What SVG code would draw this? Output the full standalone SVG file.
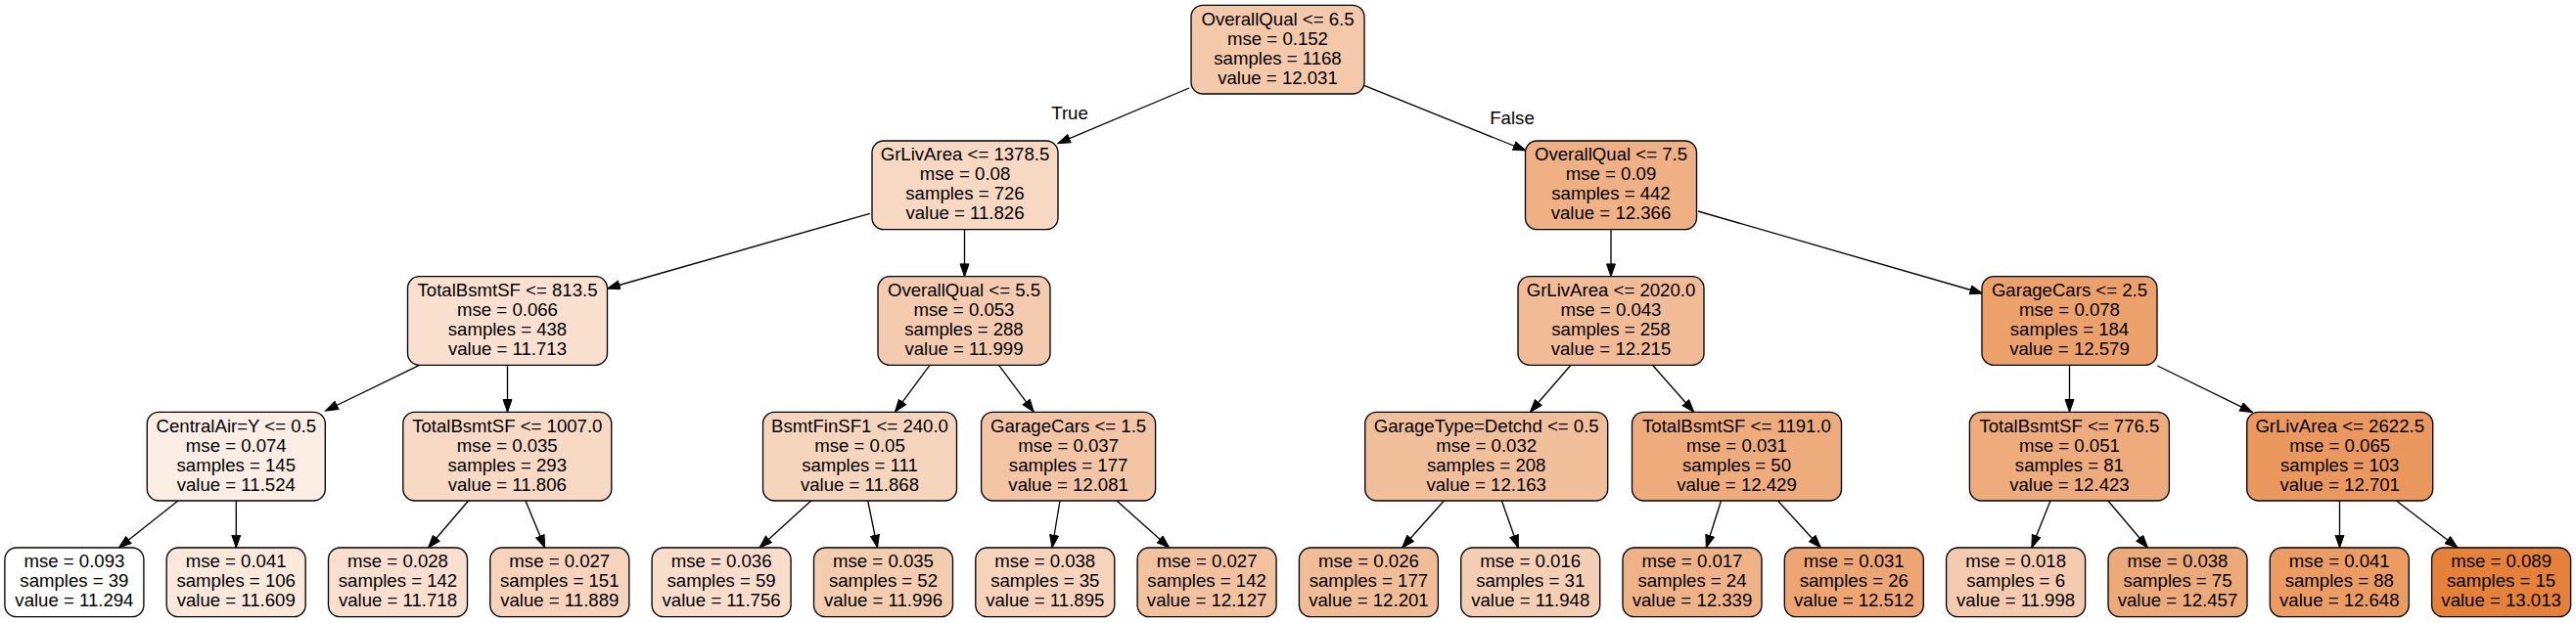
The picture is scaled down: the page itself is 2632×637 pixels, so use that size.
<svg xmlns="http://www.w3.org/2000/svg" width="2632" height="637" viewBox="0 0 2632 637">
<style>
.b{stroke:#000;stroke-width:1.33}
text{font-family:"Liberation Sans",Arial,Helvetica,sans-serif;font-size:18.6px;fill:#000;text-anchor:middle}
.e line{stroke:#000;stroke-width:1.33;marker-end:url(#ah)}
</style>
<defs>
<marker id="ah" markerUnits="userSpaceOnUse" markerWidth="16" markerHeight="12" refX="13.3" refY="5" orient="auto">
<path d="M0.5,0.5 L13.3,5 L0.5,9.5 z" fill="#000" stroke="#000" stroke-width="1"/>
</marker>
</defs>
<rect width="2632" height="637" fill="#fff"/>
<g id="edges" class="e">
<line x1="1215" y1="90" x2="1080.8" y2="146.7"/>
<line x1="1393.7" y1="87.3" x2="1559" y2="154"/>
<line x1="888.8" y1="218.3" x2="620.5" y2="295"/>
<line x1="985.5" y1="234.7" x2="985.5" y2="282.7"/>
<line x1="1646" y1="234.7" x2="1646" y2="282.7"/>
<line x1="1735" y1="216" x2="2025.7" y2="300"/>
<line x1="428.6" y1="373.3" x2="332.6" y2="420"/>
<line x1="518.5" y1="373.3" x2="518.5" y2="421.3"/>
<line x1="950" y1="373.3" x2="914.4" y2="421.3"/>
<line x1="1020.6" y1="373.3" x2="1056.3" y2="421.3"/>
<line x1="1605" y1="373.3" x2="1563.4" y2="421.3"/>
<line x1="1688.4" y1="373.3" x2="1730.8" y2="421.3"/>
<line x1="2114.5" y1="373.3" x2="2114.5" y2="421.3"/>
<line x1="2204.3" y1="374" x2="2301.6" y2="421.7"/>
<line x1="182" y1="512" x2="121.4" y2="560"/>
<line x1="241.3" y1="512" x2="241.3" y2="560"/>
<line x1="478.6" y1="512" x2="437.5" y2="560"/>
<line x1="537" y1="512" x2="556.7" y2="560"/>
<line x1="828.7" y1="512" x2="776" y2="560"/>
<line x1="886.7" y1="512" x2="896.5" y2="560"/>
<line x1="1083" y1="512" x2="1075" y2="560"/>
<line x1="1141" y1="512" x2="1194.7" y2="560"/>
<line x1="1475.4" y1="512" x2="1432.6" y2="560"/>
<line x1="1534.4" y1="512" x2="1551.3" y2="560"/>
<line x1="1758.5" y1="512" x2="1743.3" y2="560"/>
<line x1="1816.5" y1="512" x2="1860.3" y2="560"/>
<line x1="2095" y1="512" x2="2075.8" y2="560"/>
<line x1="2153.9" y1="512" x2="2194.5" y2="560"/>
<line x1="2390.5" y1="512" x2="2390.5" y2="560"/>
<line x1="2448.5" y1="512" x2="2511" y2="560"/>
<text x="1093" y="121.7">True</text>
<text x="1545" y="126.5">False</text>
</g>
<g id="n0"><rect class="b" x="1217" y="5.33" width="177" height="90.67" rx="12" fill="#f4c9aa"/><text x="1305.5" y="25.7">OverallQual &lt;= 6.5</text><text x="1305.5" y="45.7">mse = 0.152</text><text x="1305.5" y="65.7">samples = 1168</text><text x="1305.5" y="85.7">value = 12.031</text></g>
<g id="n1"><rect class="b" x="891" y="144" width="190" height="90.67" rx="12" fill="#f7d8c2"/><text x="986" y="164.4">GrLivArea &lt;= 1378.5</text><text x="986" y="184.4">mse = 0.08</text><text x="986" y="204.4">samples = 726</text><text x="986" y="224.4">value = 11.826</text></g>
<g id="n2"><rect class="b" x="1558.5" y="144" width="175" height="90.67" rx="12" fill="#efb084"/><text x="1646" y="164.4">OverallQual &lt;= 7.5</text><text x="1646" y="184.4">mse = 0.09</text><text x="1646" y="204.4">samples = 442</text><text x="1646" y="224.4">value = 12.366</text></g>
<g id="n3"><rect class="b" x="416.5" y="282.67" width="204" height="90.67" rx="12" fill="#f9e0cf"/><text x="518.5" y="303.1">TotalBsmtSF &lt;= 813.5</text><text x="518.5" y="323.1">mse = 0.066</text><text x="518.5" y="343.1">samples = 438</text><text x="518.5" y="363.1">value = 11.713</text></g>
<g id="n4"><rect class="b" x="897" y="282.67" width="176" height="90.67" rx="12" fill="#f4cbae"/><text x="985" y="303.1">OverallQual &lt;= 5.5</text><text x="985" y="323.1">mse = 0.053</text><text x="985" y="343.1">samples = 288</text><text x="985" y="363.1">value = 11.999</text></g>
<g id="n5"><rect class="b" x="1551" y="282.67" width="190" height="90.67" rx="12" fill="#f1bb95"/><text x="1646" y="303.1">GrLivArea &lt;= 2020.0</text><text x="1646" y="323.1">mse = 0.043</text><text x="1646" y="343.1">samples = 258</text><text x="1646" y="363.1">value = 12.215</text></g>
<g id="n6"><rect class="b" x="2025" y="282.67" width="179" height="90.67" rx="12" fill="#eca16b"/><text x="2114.5" y="303.1">GarageCars &lt;= 2.5</text><text x="2114.5" y="323.1">mse = 0.078</text><text x="2114.5" y="343.1">samples = 184</text><text x="2114.5" y="363.1">value = 12.579</text></g>
<g id="n7"><rect class="b" x="150.3" y="421.33" width="182" height="90.67" rx="12" fill="#fceee5"/><text x="241.3" y="441.7">CentralAir=Y &lt;= 0.5</text><text x="241.3" y="461.7">mse = 0.074</text><text x="241.3" y="481.7">samples = 145</text><text x="241.3" y="501.7">value = 11.524</text></g>
<g id="n8"><rect class="b" x="411.8" y="421.33" width="213" height="90.67" rx="12" fill="#f7d9c4"/><text x="518.3" y="441.7">TotalBsmtSF &lt;= 1007.0</text><text x="518.3" y="461.7">mse = 0.035</text><text x="518.3" y="481.7">samples = 293</text><text x="518.3" y="501.7">value = 11.806</text></g>
<g id="n9"><rect class="b" x="779.5" y="421.33" width="198" height="90.67" rx="12" fill="#f6d5bd"/><text x="878.5" y="441.7">BsmtFinSF1 &lt;= 240.0</text><text x="878.5" y="461.7">mse = 0.05</text><text x="878.5" y="481.7">samples = 111</text><text x="878.5" y="501.7">value = 11.868</text></g>
<g id="n10"><rect class="b" x="1002.6" y="421.33" width="178" height="90.67" rx="12" fill="#f3c5a4"/><text x="1091.6" y="441.7">GarageCars &lt;= 1.5</text><text x="1091.6" y="461.7">mse = 0.037</text><text x="1091.6" y="481.7">samples = 177</text><text x="1091.6" y="501.7">value = 12.081</text></g>
<g id="n11"><rect class="b" x="1394.7" y="421.33" width="248" height="90.67" rx="12" fill="#f2bf9b"/><text x="1518.7" y="441.7">GarageType=Detchd &lt;= 0.5</text><text x="1518.7" y="461.7">mse = 0.032</text><text x="1518.7" y="481.7">samples = 208</text><text x="1518.7" y="501.7">value = 12.163</text></g>
<g id="n12"><rect class="b" x="1667.5" y="421.33" width="214" height="90.67" rx="12" fill="#eeac7c"/><text x="1774.5" y="441.7">TotalBsmtSF &lt;= 1191.0</text><text x="1774.5" y="461.7">mse = 0.031</text><text x="1774.5" y="481.7">samples = 50</text><text x="1774.5" y="501.7">value = 12.429</text></g>
<g id="n13"><rect class="b" x="2012.4" y="421.33" width="204" height="90.67" rx="12" fill="#eeac7d"/><text x="2114.4" y="441.7">TotalBsmtSF &lt;= 776.5</text><text x="2114.4" y="461.7">mse = 0.051</text><text x="2114.4" y="481.7">samples = 81</text><text x="2114.4" y="501.7">value = 12.423</text></g>
<g id="n14"><rect class="b" x="2295.7" y="421.33" width="190" height="90.67" rx="12" fill="#ea985d"/><text x="2390.7" y="441.7">GrLivArea &lt;= 2622.5</text><text x="2390.7" y="461.7">mse = 0.065</text><text x="2390.7" y="481.7">samples = 103</text><text x="2390.7" y="501.7">value = 12.701</text></g>
<g id="l1"><rect class="b" x="4.9" y="560" width="142" height="70.67" rx="12" fill="#ffffff"/><text x="75.9" y="580.4">mse = 0.093</text><text x="75.9" y="600.4">samples = 39</text><text x="75.9" y="620.4">value = 11.294</text></g>
<g id="l2"><rect class="b" x="170.2" y="560" width="142" height="70.67" rx="12" fill="#fae8db"/><text x="241.2" y="580.4">mse = 0.041</text><text x="241.2" y="600.4">samples = 106</text><text x="241.2" y="620.4">value = 11.609</text></g>
<g id="l3"><rect class="b" x="335.5" y="560" width="142" height="70.67" rx="12" fill="#f9e0ce"/><text x="406.5" y="580.4">mse = 0.028</text><text x="406.5" y="600.4">samples = 142</text><text x="406.5" y="620.4">value = 11.718</text></g>
<g id="l4"><rect class="b" x="500.8" y="560" width="142" height="70.67" rx="12" fill="#f6d3ba"/><text x="571.8" y="580.4">mse = 0.027</text><text x="571.8" y="600.4">samples = 151</text><text x="571.8" y="620.4">value = 11.889</text></g>
<g id="l5"><rect class="b" x="666.1" y="560" width="142" height="70.67" rx="12" fill="#f8ddca"/><text x="737.1" y="580.4">mse = 0.036</text><text x="737.1" y="600.4">samples = 59</text><text x="737.1" y="620.4">value = 11.756</text></g>
<g id="l6"><rect class="b" x="831.5" y="560" width="142" height="70.67" rx="12" fill="#f4ccae"/><text x="902.5" y="580.4">mse = 0.035</text><text x="902.5" y="600.4">samples = 52</text><text x="902.5" y="620.4">value = 11.996</text></g>
<g id="l7"><rect class="b" x="996.8" y="560" width="142" height="70.67" rx="12" fill="#f6d3ba"/><text x="1067.8" y="580.4">mse = 0.038</text><text x="1067.8" y="600.4">samples = 35</text><text x="1067.8" y="620.4">value = 11.895</text></g>
<g id="l8"><rect class="b" x="1162.1" y="560" width="142" height="70.67" rx="12" fill="#f2c29f"/><text x="1233.1" y="580.4">mse = 0.027</text><text x="1233.1" y="600.4">samples = 142</text><text x="1233.1" y="620.4">value = 12.127</text></g>
<g id="l9"><rect class="b" x="1327.4" y="560" width="142" height="70.67" rx="12" fill="#f1bd97"/><text x="1398.4" y="580.4">mse = 0.026</text><text x="1398.4" y="600.4">samples = 177</text><text x="1398.4" y="620.4">value = 12.201</text></g>
<g id="l10"><rect class="b" x="1492.7" y="560" width="142" height="70.67" rx="12" fill="#f5cfb4"/><text x="1563.7" y="580.4">mse = 0.016</text><text x="1563.7" y="600.4">samples = 31</text><text x="1563.7" y="620.4">value = 11.948</text></g>
<g id="l11"><rect class="b" x="1658" y="560" width="142" height="70.67" rx="12" fill="#efb287"/><text x="1729" y="580.4">mse = 0.017</text><text x="1729" y="600.4">samples = 24</text><text x="1729" y="620.4">value = 12.339</text></g>
<g id="l12"><rect class="b" x="1823.3" y="560" width="142" height="70.67" rx="12" fill="#eda673"/><text x="1894.3" y="580.4">mse = 0.031</text><text x="1894.3" y="600.4">samples = 26</text><text x="1894.3" y="620.4">value = 12.512</text></g>
<g id="l13"><rect class="b" x="1988.6" y="560" width="142" height="70.67" rx="12" fill="#f4cbae"/><text x="2059.6" y="580.4">mse = 0.018</text><text x="2059.6" y="600.4">samples = 6</text><text x="2059.6" y="620.4">value = 11.998</text></g>
<g id="l14"><rect class="b" x="2154" y="560" width="142" height="70.67" rx="12" fill="#edaa79"/><text x="2225" y="580.4">mse = 0.038</text><text x="2225" y="600.4">samples = 75</text><text x="2225" y="620.4">value = 12.457</text></g>
<g id="l15"><rect class="b" x="2319.3" y="560" width="142" height="70.67" rx="12" fill="#eb9c63"/><text x="2390.3" y="580.4">mse = 0.041</text><text x="2390.3" y="600.4">samples = 88</text><text x="2390.3" y="620.4">value = 12.648</text></g>
<g id="l16"><rect class="b" x="2484.6" y="560" width="142" height="70.67" rx="12" fill="#e58139"/><text x="2555.6" y="580.4">mse = 0.089</text><text x="2555.6" y="600.4">samples = 15</text><text x="2555.6" y="620.4">value = 13.013</text></g>
</svg>
